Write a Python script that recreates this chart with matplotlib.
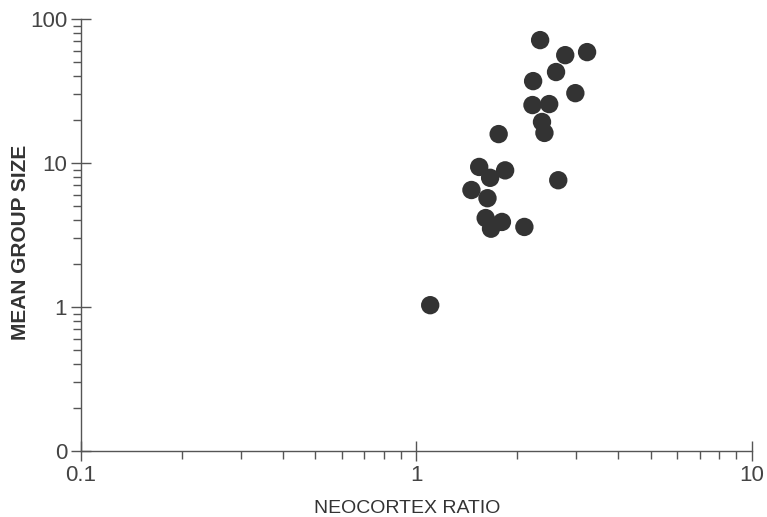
import matplotlib.pyplot as plt
import numpy as np
from matplotlib.ticker import FixedLocator, FixedFormatter, LogLocator, NullFormatter

plt.rcParams['font.family'] = ['Liberation Sans', 'DejaVu Sans']

# Data (neocortex ratio vs mean group size)
neocortex_ratio = [2.34, 2.78, 3.23, 2.61, 2.23, 2.98, 2.22, 2.49, 2.37, 2.41,
                   1.76, 1.54, 1.84, 1.66, 1.46, 1.63, 2.65, 1.61, 1.80, 1.67,
                   2.10, 1.10]
group_size = [71.5, 56.2, 59.0, 42.9, 37.1, 30.6, 25.3, 25.7, 19.3, 16.2,
              15.9, 9.4, 8.9, 7.9, 6.5, 5.7, 7.6, 4.15, 3.9, 3.5,
              3.6, 1.03]

x_ticks = [0.1, 1, 10]
x_labels = ['0.1', '1', '10']
y_ticks = [0.1, 1, 10, 100]
y_labels = ['0', '1', '10', '100']

fig = plt.figure(figsize=(7.67, 5.17), dpi=100)
ax = fig.add_axes([0.1056, 0.1277, 0.8744, 0.8353])

ax.scatter(neocortex_ratio, group_size, s=175, color='#333333',
           edgecolors='none', zorder=3)

ax.set_xscale('log')
ax.set_yscale('log')
ax.set_xlim(0.1, 10)
ax.set_ylim(0.1, 100)

ax.xaxis.set_major_locator(FixedLocator(x_ticks))
ax.xaxis.set_major_formatter(FixedFormatter(x_labels))
ax.yaxis.set_major_locator(FixedLocator(y_ticks))
ax.yaxis.set_major_formatter(FixedFormatter(y_labels))
ax.xaxis.set_minor_locator(LogLocator(base=10, subs=np.arange(2, 10)))
ax.yaxis.set_minor_locator(LogLocator(base=10, subs=np.arange(2, 10)))
ax.xaxis.set_minor_formatter(NullFormatter())
ax.yaxis.set_minor_formatter(NullFormatter())

for side in ['top', 'right']:
    ax.spines[side].set_visible(False)
for side in ['left', 'bottom']:
    ax.spines[side].set_color('#555555')
    ax.spines[side].set_linewidth(1.0)

ax.tick_params(which='major', direction='inout', length=14, width=1.0,
               color='#555555', labelsize=16, labelcolor='#444444', pad=3)
ax.tick_params(which='minor', direction='out', length=6, width=1.0,
               color='#555555')

ax.set_xlabel('NEOCORTEX RATIO', fontsize=14, color='#333333')
ax.set_ylabel('MEAN GROUP SIZE', fontsize=15, fontweight='bold',
              color='#333333')
ax.xaxis.set_label_coords(0.486, -0.113)
ax.yaxis.set_label_coords(-0.076, 0.484)

fig.savefig('out.png', dpi=100)
